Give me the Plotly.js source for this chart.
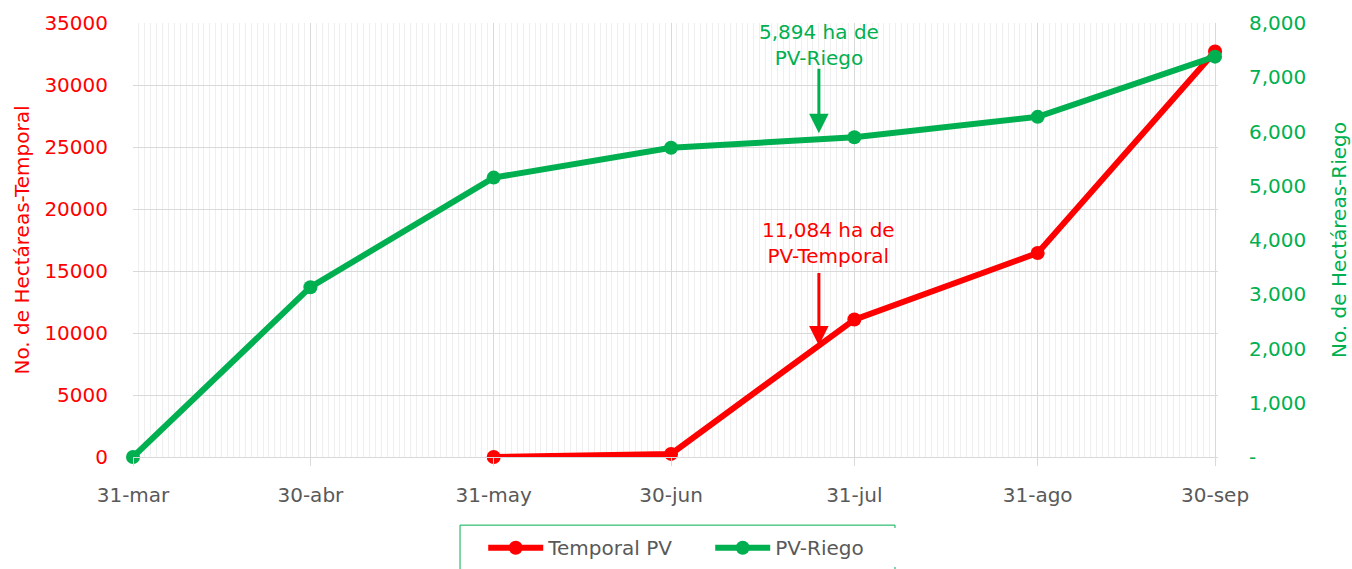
<!DOCTYPE html>
<html>
<head>
<meta charset="utf-8">
<script src="https://cdn.plot.ly/plotly-3.0.1.min.js"></script>
<style>
html,body{margin:0;padding:0;background:#fff;}
#chart{width:1352px;height:569px;}
</style>
</head>
<body>
<div id="chart"></div>
<script>
// ---- data ----
const dates = ['2021-03-31','2021-04-30','2021-05-31','2021-06-30','2021-07-31','2021-08-31','2021-09-30'];
const xTickLabels = ['31-mar','30-abr','31-may','30-jun','31-jul','31-ago','30-sep'];
const temporalPV = [null, null, 0, 250, 11084, 16450, 32700];
const pvRiego = [0, 3130, 5150, 5700, 5894, 6270, 7380];
const y2TickVals = [0,1000,2000,3000,4000,5000,6000,7000,8000];
const y2TickText = ['-','1,000','2,000','3,000','4,000','5,000','6,000','7,000','8,000'];
const riegoNote = '5,894 ha de<br>PV-Riego';
const temporalNote = '11,084 ha de<br>PV-Temporal';
const noteDate = '2021-07-25';

const RED = '#FF0000', GREEN = '#00B050', GRAY = '#595959';
const FONT = 'DejaVu Sans, Open Sans, sans-serif';
const FS = 20;

const traces = [
  {x: dates, y: temporalPV, name: 'Temporal PV', type: 'scatter', mode: 'lines+markers',
   line: {color: RED, width: 6}, marker: {color: RED, size: 14}, yaxis: 'y', cliponaxis: false},
  {x: dates, y: pvRiego, name: 'PV-Riego', type: 'scatter', mode: 'lines+markers',
   line: {color: GREEN, width: 6}, marker: {color: GREEN, size: 14}, yaxis: 'y2', cliponaxis: false}
];

const layout = {
  width: 1352, height: 569,
  paper_bgcolor: '#fff', plot_bgcolor: '#fff',
  margin: {l: 133, r: 134, t: 23, b: 112, autoexpand: false},
  font: {family: FONT, size: FS, color: GRAY},
  showlegend: true,
  legend: {orientation: 'h', x: 0.532, xanchor: 'center', y: -0.164, yanchor: 'top',
           borderwidth: 0, font: {size: FS, color: GRAY},
           itemwidth: 55, entrywidth: 157, traceorder: 'normal'},
  xaxis: {
    type: 'date', range: ['2021-03-31', '2021-09-30 12:00'],
    tickvals: dates, ticktext: xTickLabels,
    showgrid: true, gridcolor: '#d9d9d9', gridwidth: 1,
    showline: true, linecolor: '#d9d9d9', linewidth: 1,
    ticks: 'outside', ticklen: 8, tickcolor: '#d9d9d9',
    ticklabelstandoff: 12,
    tickfont: {size: FS, color: GRAY},
    minor: {dtick: 86400000, showgrid: true, gridcolor: '#efefef', gridwidth: 1, ticks: ''},
    zeroline: false, fixedrange: true
  },
  yaxis: {
    range: [0, 35000], dtick: 5000, tick0: 0, tickformat: 'd',
    showgrid: true, gridcolor: '#d9d9d9', gridwidth: 1,
    zeroline: false, showline: false,
    tickfont: {size: FS, color: RED},
    ticklabelstandoff: 24,
    title: {text: 'No. de Hectáreas-Temporal', font: {size: FS, color: RED}, standoff: 9},
    fixedrange: true
  },
  yaxis2: {
    overlaying: 'y', side: 'right',
    range: [0, 8000], tickvals: y2TickVals, ticktext: y2TickText,
    showgrid: false, zeroline: false, showline: false,
    tickfont: {size: FS, color: GREEN},
    ticklabelstandoff: 30,
    title: {text: 'No. de Hectáreas-Riego', font: {size: FS, color: GREEN}, standoff: 26},
    fixedrange: true
  },
  shapes: [
    {type: 'rect', xref: 'paper', yref: 'paper', x0: 0.3014, x1: 0.7023, y0: -0.157, y1: -0.30,
     line: {color: GREEN, width: 1}, fillcolor: 'rgba(0,0,0,0)'}
  ],
  annotations: [
    {x: noteDate, y: 5970, xref: 'x', yref: 'y2', text: '', showarrow: true,
     ax: 0, ay: -66, arrowhead: 2, arrowsize: 1.3, arrowwidth: 3, arrowcolor: GREEN},
    {x: noteDate, y: 5970, xref: 'x', yref: 'y2', text: riegoNote, showarrow: false,
     yshift: 88, font: {size: FS, color: GREEN}, align: 'center'},
    {x: noteDate, y: 9000, xref: 'x', yref: 'y', text: '', showarrow: true,
     ax: 0, ay: -74, arrowhead: 2, arrowsize: 1.3, arrowwidth: 3, arrowcolor: RED},
    {x: noteDate, y: 9000, xref: 'x', yref: 'y', text: temporalNote, showarrow: false,
     xshift: 10, yshift: 102, font: {size: FS, color: RED}, align: 'center'}
  ]
};

Plotly.newPlot('chart', traces, layout, {displayModeBar: false, staticPlot: true});
</script>
</body>
</html>
